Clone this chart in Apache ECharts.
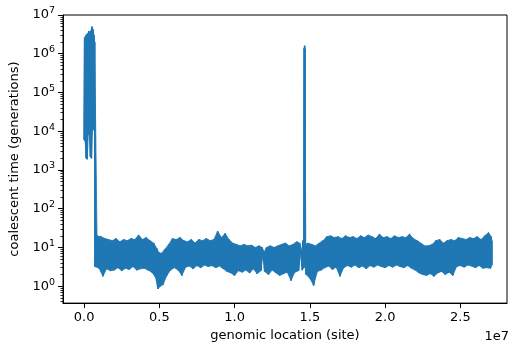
<!DOCTYPE html>
<html><head><meta charset="utf-8">
<script src="https://cdn.jsdelivr.net/npm/echarts@6/dist/echarts.min.js"></script>
<style>html,body{margin:0;padding:0;background:#fff}#c{width:514px;height:347px}</style>
</head><body><div id="c"></div>
<script>
// High-coalescence cluster at the chromosome start (positions in kb)
const clusterPosKb = [0, 70, 140, 210, 280, 350, 420, 490, 560, 630, 690];
const clusterLow   = [6000, 5500, 2000, 1900, 9000, 8000, 2200, 2000, 11000, 12000, 10000];
const clusterHigh  = [2600000, 2900000, 3200000, 3300000, 3800000, 3600000, 3900000, 5000000, 4200000, 3000000, 2000000];

// Main band (positions in Mb): lower and upper envelope of coalescent time
const bandPosMb = [0.72,1.0,1.25,1.5,1.75,2.0,2.25,2.5,2.75,3.0,3.25,3.5,3.75,4.0,4.25,4.5,4.75,4.9,5.0,5.25,5.5,5.75,
  6.0,6.25,6.5,6.75,7.0,7.25,7.5,7.75,8.0,8.25,8.5,8.75,9.0,9.25,9.5,9.75,10.0,10.25,10.5,10.75,11.0,11.25,11.5,11.75,11.9,
  12.0,12.25,12.5,12.75,13.0,13.25,13.5,13.75,14.0,14.25,14.4,14.5,14.59,14.61,14.64,14.67,14.70,14.75,15.0,15.25,15.5,15.75,
  16.0,16.25,16.5,16.75,17.0,17.25,17.5,17.75,18.0,18.25,18.5,18.75,19.0,19.25,19.5,19.75,20.0,20.25,20.5,20.75,
  21.0,21.25,21.5,21.75,22.0,22.25,22.5,22.75,23.0,23.25,23.5,23.75,24.0,24.25,24.5,24.75,25.0,25.25,25.5,25.75,
  26.0,26.25,26.5,26.75,27.0,27.1];
const bandLow = [3.2,2.9,1.8,2.8,2.5,2.6,3.0,2.5,2.9,2.7,3.2,2.6,2.8,2.9,2.6,2.3,1.7,0.85,0.95,1.1,1.9,2.6,
  3.0,2.6,1.9,3.1,3.3,2.8,3.4,3.0,3.5,3.2,3.4,3.0,3.3,2.8,2.4,2.2,1.9,2.5,2.3,2.6,2.2,2.8,2.1,2.5,7.5,
  2.4,2.0,2.6,2.2,1.9,2.1,2.3,1.4,2.3,2.5,8,2.6,3,4,5,3.5,3,2.0,1.6,1.05,2.4,2.6,
  3.0,3.3,2.7,3.1,1.8,3.0,3.4,3.1,3.5,3.0,3.3,2.8,3.4,3.1,3.5,3.2,3.0,3.4,3.1,3.5,
  3.2,3.0,3.4,2.9,2.6,2.2,2.0,1.9,2.1,1.8,2.2,2.4,2.0,2.3,1.9,3.2,3.4,3.1,3.5,3.3,
  3.0,3.4,2.9,3.0,2.9,3.5];
const bandHigh = [20,19,17,16,15,17,14,16,15,17,16,21,16,18,15,13,9.5,7.5,7,9,12,17,
  16,18,15,14,16,13,16,15,17,15,16,26,18,23,16,13,12,11,12,11,11.5,10,11,10,7.5,
  10,11,10,11,12,13,11,12,14,13,8,15,12,1400000,1600000,1300000,12,13,12,11,13,15,
  19,20,18,19,17,20,18,19,17,20,18,21,19,17,22,18,19,17,20,18,
  19,18,22,17,15,13,11,11,12,15,16,13,15,16,15,18,17,16,18,17,
  19,16,20,24,19,15];

const xTickValues = [0, 5e6, 1e7, 1.5e7, 2e7, 2.5e7];
const yTickValues = [1, 10, 100, 1e3, 1e4, 1e5, 1e6, 1e7];
const minorMultipliers = [2, 3, 4, 5, 6, 7, 8, 9];
const yMin = 0.366, yMax = 1e7;
const yMinorTickValues = [0.4, 0.5, 0.6, 0.7, 0.8, 0.9];
for (let d = 1; d < 1e7; d *= 10) minorMultipliers.forEach(m => yMinorTickValues.push(m * d));

const pos = clusterPosKb.map(v => v * 1e3).concat(bandPosMb.map(v => v * 1e6));
const lo = clusterLow.concat(bandLow);
const hi = clusterHigh.concat(bandHigh);
const hiPos = pos.map((p, i) => i < pos.length - 1 ? p + (pos[i + 1] - p) / 2 : p);
const lineData = [];
for (let i = 0; i < pos.length; i++) {
  lineData.push([pos[i], lo[i]]);
  lineData.push([hiPos[i], hi[i]]);
}
// band fill pieces between consecutive samples
const bandPieces = [];
for (let i = 0; i < pos.length - 1; i++) {
  bandPieces.push([pos[i], lo[i], hiPos[i], hi[i], hiPos[i + 1], hi[i + 1], pos[i + 1], lo[i + 1]]);
}

const font = 'DejaVu Sans';
const blue = '#1f77b4';
const chart = echarts.init(document.getElementById('c'));
chart.setOption({
  animation: false,
  grid: {left: 63, right: 7, top: 15, bottom: 42, show: true, borderColor: '#000', borderWidth: 1},
  xAxis: {
    type: 'value', min: -1.4e6, max: 2.81e7,
    splitLine: {show: false},
    axisLine: {show: true, onZero: false, lineStyle: {color: '#000', width: 1}},
    axisTick: {show: true, length: 5, customValues: xTickValues, lineStyle: {color: '#000', width: 1}},
    axisLabel: {customValues: xTickValues, formatter: v => (v / 1e7).toFixed(1), color: '#000', fontSize: 13, fontFamily: font, margin: 8},
    name: 'genomic location (site)', nameLocation: 'middle', nameGap: 25,
    nameTextStyle: {color: '#000', fontSize: 13, fontFamily: font}
  },
  yAxis: [{
    type: 'log', logBase: 10, min: yMin, max: yMax, position: 'left',
    splitLine: {show: false},
    axisLine: {show: true, onZero: false, lineStyle: {color: '#000', width: 1}},
    axisTick: {show: true, length: 5, customValues: yTickValues, lineStyle: {color: '#000', width: 1}},
    axisLabel: {customValues: yTickValues, color: '#000', fontFamily: font, margin: 8,
      formatter: v => '{b|10}{e|' + Math.round(Math.log10(v)) + '}',
      rich: {
        b: {fontSize: 13, fontFamily: font, color: '#000'},
        e: {fontSize: 9.5, fontFamily: font, color: '#000', padding: [0, 0, 8, 0]}
      }},
    name: 'coalescent time (generations)', nameLocation: 'middle', nameGap: 33, nameRotate: 90,
    nameTextStyle: {color: '#000', fontSize: 13, fontFamily: font}
  }, {
    type: 'log', logBase: 10, min: yMin, max: yMax, position: 'left', offset: 0,
    splitLine: {show: false},
    axisLine: {show: false, onZero: false},
    axisLabel: {show: false},
    axisTick: {show: true, length: 2.6, customValues: yMinorTickValues, lineStyle: {color: '#000', width: 0.8}}
  }],
  series: [{
    type: 'custom', yAxisIndex: 0, data: bandPieces, clip: true, silent: true,
    encode: {x: [0, 2, 4, 6], y: [1, 3, 5, 7]},
    renderItem: (params, api) => {
      const pts = [];
      for (let k = 0; k < 8; k += 2) pts.push(api.coord([api.value(k), api.value(k + 1)]));
      return {type: 'polygon', shape: {points: pts}, style: {fill: blue, stroke: blue, lineWidth: 0.8}};
    }
  }, {
    type: 'line', yAxisIndex: 0, data: lineData, showSymbol: false, symbol: 'none',
    lineStyle: {color: blue, width: 1.6}, clip: true
  }],
  graphic: [{type: 'text', right: 5, top: 330, style: {text: '1e7', font: '13px "DejaVu Sans"', fill: '#000'}}]
});
</script></body></html>
